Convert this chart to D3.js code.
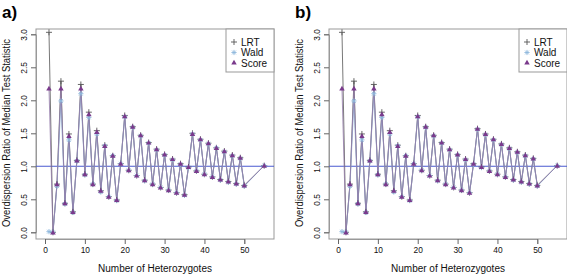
<!DOCTYPE html>
<html>
<head>
<meta charset="utf-8">
<script src="https://cdn.jsdelivr.net/npm/d3@7"></script>
<style>
  body { margin: 0; background: #fff; }
  svg { display: block; font-family: "Liberation Sans", Arial, sans-serif; }
</style>
</head>
<body>
<div id="chart"></div>
<script>
// number of heterozygotes
var hets = [1,2,3,4,5,6,7,8,9,10,11,12,13,14,15,16,17,18,19,20,
            21,22,23,24,25,26,27,28,29,30,31,32,33,34,35,36,37,38,39,40,
            41,42,43,44,45,46,47,48,49,50,55]

// panel a)
var lrtA   = [3.03,0.00,0.73,2.29,0.44,1.49,0.31,1.09,2.24,0.88,1.82,0.73,1.54,0.63,1.32,0.54,1.16,0.49,1.04,1.77,
              0.94,1.60,0.86,1.47,0.79,1.36,0.73,1.26,0.68,1.18,0.64,1.11,0.60,1.04,0.57,0.99,1.50,0.93,1.41,0.88,
              1.35,0.84,1.28,0.80,1.23,0.77,1.17,0.74,1.13,0.71,1.01]
var waldA  = [0.01,0.00,0.70,1.99,0.43,1.40,0.30,1.08,2.10,0.87,1.74,0.73,1.49,0.61,1.31,0.54,1.16,0.48,1.04,1.75,
              0.94,1.59,0.86,1.46,0.78,1.35,0.73,1.25,0.68,1.17,0.64,1.10,0.60,1.03,0.56,0.98,1.49,0.93,1.40,0.88,
              1.34,0.84,1.28,0.79,1.22,0.76,1.16,0.73,1.12,0.70,1.01]
var scoreA = [2.18,0.00,0.73,2.18,0.44,1.46,0.31,1.09,2.18,0.88,1.79,0.73,1.52,0.63,1.31,0.54,1.16,0.49,1.04,1.76,
              0.94,1.60,0.86,1.47,0.79,1.36,0.73,1.26,0.68,1.18,0.64,1.11,0.60,1.04,0.57,0.99,1.49,0.93,1.41,0.88,
              1.35,0.84,1.28,0.80,1.23,0.77,1.17,0.74,1.13,0.71,1.01]

// panel b)
var lrtB   = [3.03,0.00,0.73,2.29,0.44,1.49,0.31,1.09,2.24,0.88,1.82,0.73,1.54,0.63,1.32,0.54,1.16,0.49,1.04,1.77,
              0.94,1.60,0.86,1.47,0.79,1.36,0.73,1.26,0.68,1.18,0.64,1.11,0.60,1.04,1.57,0.99,1.49,0.93,1.41,0.88,
              1.34,0.84,1.28,0.80,1.22,0.77,1.17,0.74,1.12,0.71,1.01]
var waldB  = [0.01,0.00,0.70,1.99,0.43,1.40,0.30,1.08,2.10,0.87,1.74,0.73,1.49,0.61,1.31,0.54,1.16,0.48,1.04,1.75,
              0.94,1.59,0.86,1.46,0.78,1.35,0.73,1.25,0.68,1.17,0.64,1.10,0.60,1.03,1.56,0.98,1.48,0.93,1.40,0.88,
              1.33,0.84,1.27,0.79,1.21,0.76,1.16,0.73,1.11,0.70,1.01]
var scoreB = [2.18,0.00,0.73,2.18,0.44,1.46,0.31,1.09,2.18,0.88,1.79,0.73,1.52,0.63,1.31,0.54,1.16,0.49,1.04,1.76,
              0.94,1.60,0.86,1.47,0.79,1.36,0.73,1.26,0.68,1.18,0.64,1.11,0.60,1.04,1.57,0.99,1.49,0.93,1.41,0.88,
              1.34,0.84,1.28,0.80,1.22,0.77,1.17,0.74,1.12,0.71,1.01]

var xTicks = [0,10,20,30,40,50]
var yTicks = [0,0.5,1,1.5,2,2.5,3]
var legendNames = ["LRT","Wald","Score"]

var colLRT = "#555555", colWald = "#8fb8dc", colScore = "#7a3a8c", colRef = "#4a5ad0"

var width = 567, height = 277

var svg = d3.select("#chart").append("svg")
    .attr("width", width)
    .attr("height", height)

// plot box (same for both panels, shifted by offset)
var box = {left: 36, right: 274, top: 29, bottom: 239}

var x = d3.scaleLinear().domain([0, 50]).range([45, 244.3])
var y = d3.scaleLinear().domain([0, 3]).range([232.3, 34.3])

function plusPath(s){ return "M" + (-s) + ",0H" + s + "M0," + (-s) + "V" + s }
function starPath(s){
    var d = s * 0.72
    return plusPath(s) + "M" + (-d) + "," + (-d) + "L" + d + "," + d + "M" + (-d) + "," + d + "L" + d + "," + (-d)
}
var tri = d3.symbol().type(d3.symbolTriangle).size(13)

function drawPanel(offset, label, lrt, wald, score){
    var g = svg.append("g").attr("transform", "translate(" + offset + ",0)")

    // panel letter
    g.append("text")
        .attr("x", 2).attr("y", 18)
        .style("font-size", "17px").style("font-weight", "bold")
        .text(label)

    // box
    g.append("rect")
        .attr("x", box.left).attr("y", box.top)
        .attr("width", box.right - box.left).attr("height", box.bottom - box.top)
        .attr("fill", "none").attr("stroke", "#999").attr("stroke-width", 1)

    // x axis
    var xAxis = g.append("g").attr("transform", "translate(0," + box.bottom + ")")
        .call(d3.axisBottom(x).tickValues(xTicks).tickSize(5).tickPadding(3))
    xAxis.select(".domain").attr("stroke", "#999")
    xAxis.selectAll(".tick line").attr("stroke", "#666")
    xAxis.selectAll("text").style("font-size", "8.4px").attr("fill", "#111")

    // y axis, labels rotated like R
    var yAxis = g.append("g").attr("transform", "translate(" + box.left + ",0)")
        .call(d3.axisLeft(y).tickValues(yTicks).tickSize(5).tickFormat(d3.format(".1f")))
    yAxis.select(".domain").attr("stroke", "#999")
    yAxis.selectAll(".tick line").attr("stroke", "#666")
    yAxis.selectAll("text")
        .style("font-size", "8.4px").attr("fill", "#111")
        .attr("x", null).attr("dy", null)
        .attr("text-anchor", "middle")
        .attr("transform", "translate(-9.5,0) rotate(-90)")

    // axis titles
    g.append("text")
        .attr("x", (box.left + box.right) / 2).attr("y", 272)
        .attr("text-anchor", "middle")
        .style("font-size", "10px").attr("fill", "#111")
        .text("Number of Heterozygotes")
    g.append("text")
        .attr("transform", "translate(10," + ((box.top + box.bottom) / 2 - 1) + ") rotate(-90)")
        .attr("text-anchor", "middle")
        .style("font-size", "10px").attr("fill", "#111")
        .attr("textLength", 188).attr("lengthAdjust", "spacingAndGlyphs")
        .text("Overdispersion Ratio of Median Test Statistic")

    // reference line at 1
    g.append("line")
        .attr("x1", box.left).attr("x2", box.right)
        .attr("y1", y(1)).attr("y2", y(1))
        .attr("stroke", colRef).attr("stroke-width", 1.1)

    var line = d3.line().x(function(d, i){ return x(hets[i]) }).y(function(d){ return y(d) })

    g.append("path").datum(lrt).attr("d", line)
        .attr("fill", "none").attr("stroke", colLRT).attr("stroke-width", 0.8)
    g.append("path").datum(wald).attr("d", line)
        .attr("fill", "none").attr("stroke", colWald).attr("stroke-width", 0.8)
    g.append("path").datum(score).attr("d", line)
        .attr("fill", "none").attr("stroke", "#9278a8").attr("stroke-width", 0.8)

    // points
    g.append("g").selectAll("path").data(lrt).enter().append("path")
        .attr("transform", function(d, i){ return "translate(" + x(hets[i]) + "," + y(d) + ")" })
        .attr("d", plusPath(3))
        .attr("stroke", colLRT).attr("stroke-width", 0.9).attr("fill", "none")
    g.append("g").selectAll("path").data(wald).enter().append("path")
        .attr("transform", function(d, i){ return "translate(" + x(hets[i]) + "," + y(d) + ")" })
        .attr("d", starPath(2.6))
        .attr("stroke", colWald).attr("stroke-width", 0.9).attr("fill", "none")
    g.append("g").selectAll("path").data(score).enter().append("path")
        .attr("transform", function(d, i){ return "translate(" + x(hets[i]) + "," + (y(d) + 0.5) + ")" })
        .attr("d", tri)
        .attr("fill", colScore)

    // legend, top right
    var lg = g.append("g")
    lg.append("rect")
        .attr("x", 226).attr("y", box.top)
        .attr("width", box.right - 226).attr("height", 43)
        .attr("fill", "#fff").attr("stroke", "#999").attr("stroke-width", 1)
    var rows = [42, 52.5, 63]
    legendNames.forEach(function(name, i){
        var sym = lg.append("path").attr("transform", "translate(234," + rows[i] + ")")
        if(i == 0){
            sym.attr("d", plusPath(3)).attr("stroke", colLRT).attr("stroke-width", 0.9).attr("fill", "none")
        } else if(i == 1){
            sym.attr("d", starPath(2.6)).attr("stroke", colWald).attr("stroke-width", 0.9).attr("fill", "none")
        } else {
            sym.attr("d", tri).attr("fill", colScore)
        }
        lg.append("text")
            .attr("x", 241).attr("y", rows[i] + 3.5)
            .style("font-size", "10px").attr("fill", "#111")
            .text(name)
    })
}

drawPanel(0, "a)", lrtA, waldA, scoreA)
drawPanel(293, "b)", lrtB, waldB, scoreB)
</script>
</body>
</html>
